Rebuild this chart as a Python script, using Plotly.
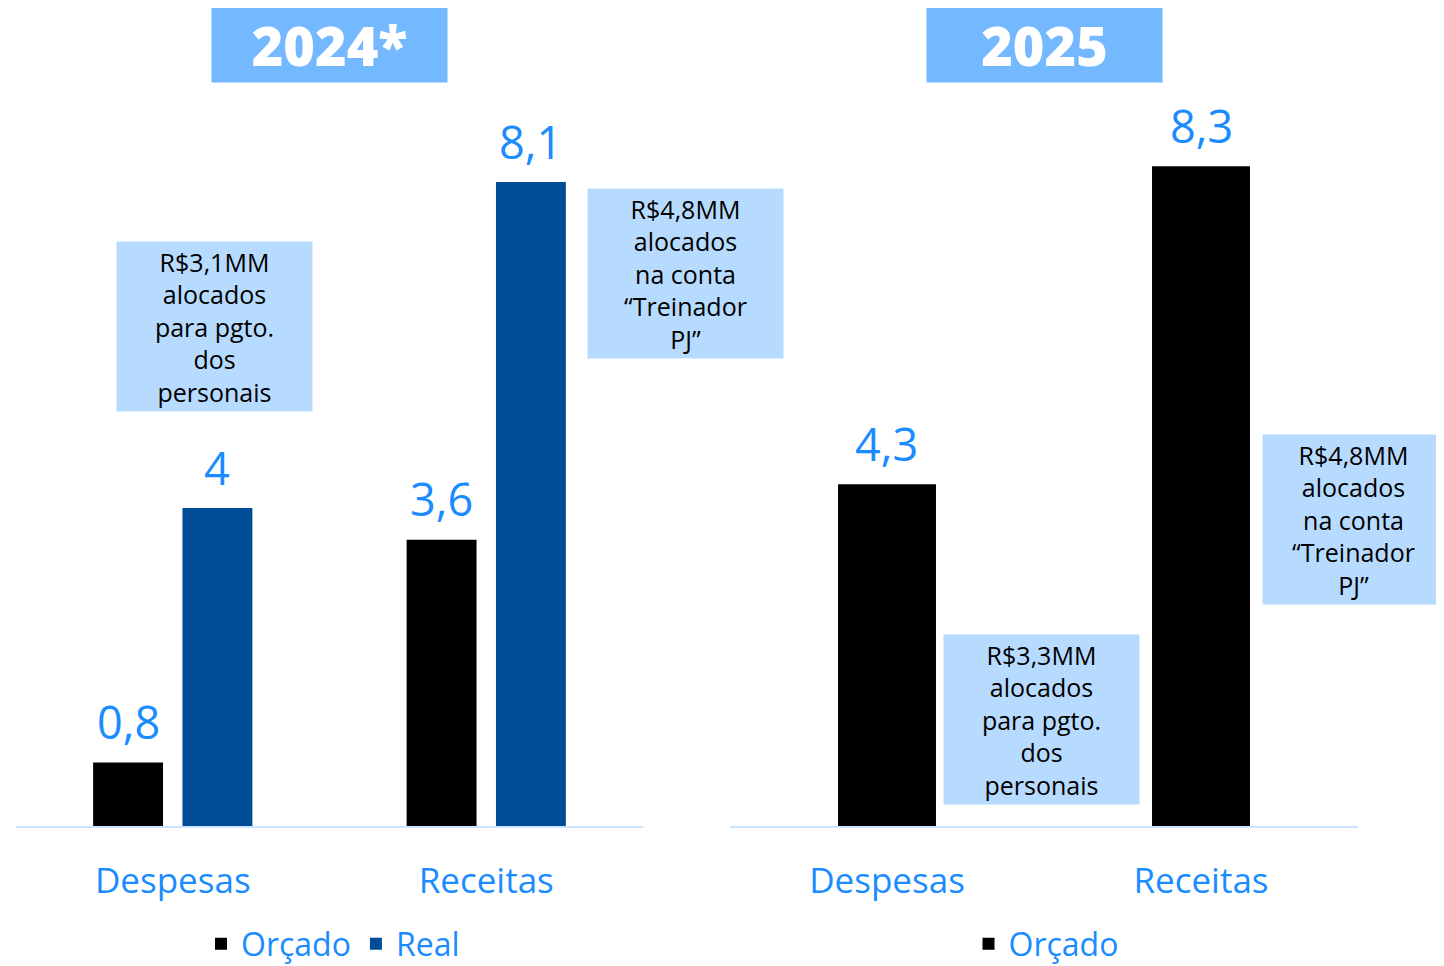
import plotly.graph_objects as go

# dados (R$ milhões)
categorias = ["Despesas", "Receitas"]
orcado_2024 = [0.8, 3.6]
real_2024 = [4.0, 8.1]
orcado_2025 = [4.3, 8.3]
titulos = ["2024*", "2025"]
notas = [
    "R$3,1MM<br>alocados<br>para pgto.<br>dos<br>personais",
    "R$4,8MM<br>alocados<br>na conta<br>“Treinador<br>PJ”",
    "R$3,3MM<br>alocados<br>para pgto.<br>dos<br>personais",
    "R$4,8MM<br>alocados<br>na conta<br>“Treinador<br>PJ”",
]

FONT = "Open Sans"
AZUL_TEXTO = "#1A8CFF"
AZUL_REAL = "#004C97"
AZUL_TITULO = "#74B8FF"
AZUL_NOTA = "#B7DBFF"
AZUL_LINHA = "#CCE4FF"

# a página tem 8px de margem no body: a figura começa em (8, 8)
W, H = 1436, 958
PLOT_H = 826 - 8
B = H - PLOT_H


def px_x(x):
    return (x - 8) / W


def px_y(y):
    return (826 - y) / PLOT_H


def fmt(v):
    s = f"{v:.1f}".replace(".", ",")
    return s[:-2] if s.endswith(",0") else s


fig = go.Figure()

fig.add_trace(go.Bar(x=categorias, y=orcado_2024, name="Orçado", marker_color="black",
                     width=0.223, offset=-0.254, xaxis="x", yaxis="y", legend="legend"))
fig.add_trace(go.Bar(x=categorias, y=real_2024, name="Real", marker_color=AZUL_REAL,
                     width=0.223, offset=0.031, xaxis="x", yaxis="y", legend="legend"))
fig.add_trace(go.Bar(x=categorias, y=orcado_2025, name="Orçado", marker_color="black",
                     width=0.312, offset=-0.156, xaxis="x2", yaxis="y", legend="legend2"))
fig.update_traces(marker_line_width=0)

annotations = []
# rótulos de valor acima das barras
for serie, xref, centro in [(orcado_2024, "x", -0.1425), (real_2024, "x", 0.1425), (orcado_2025, "x2", 0.0)]:
    for i, v in enumerate(serie):
        annotations.append(dict(x=i + centro, y=v, xref=xref, yref="y", text=fmt(v),
                                showarrow=False, yanchor="middle", yshift=41,
                                font=dict(family=FONT, size=45, color=AZUL_TEXTO)))

# caixas de título
for t, xr in zip(titulos, ["x domain", "x2 domain"]):
    annotations.append(dict(x=0.5, y=px_y(45), xref=xr, yref="paper", text=t,
                            showarrow=False, bgcolor=AZUL_TITULO, width=235, height=74,
                            borderpad=0, xanchor="center", yanchor="middle",
                            font=dict(family=FONT, size=54, color="white", weight=800)))

# notas explicativas
pos_notas = [(214.5, 326.5), (685, 273.5), (1041.5, 719), (1353.5, 519.5)]
larg_notas = [195, 195, 195, 181]
for txt, (px_, py_), w in zip(notas, pos_notas, larg_notas):
    annotations.append(dict(x=px_x(px_), y=px_y(py_), xref="paper", yref="paper", text=txt,
                            showarrow=False, bgcolor=AZUL_NOTA, width=w, height=169,
                            borderpad=0, align="center", xanchor="center", yanchor="middle",
                            font=dict(family=FONT, size=25, color="black")))

eixo_x = dict(type="category", showgrid=False, zeroline=False, showline=True,
              linecolor=AZUL_LINHA, linewidth=2, ticks="outside", ticklen=23,
              tickcolor="rgba(0,0,0,0)", tickfont=dict(family=FONT, size=35, color=AZUL_TEXTO),
              range=[-0.5, 1.5], fixedrange=True)

# legendas referenciadas ao container, para não empurrarem a margem inferior
leg_y = 1 - (944 - 8) / H
leg = dict(orientation="h", xanchor="center", yref="container", y=leg_y, yanchor="middle",
           font=dict(family=FONT, size=32, color=AZUL_TEXTO), itemwidth=30)

fig.update_layout(
    width=W, height=H,
    margin=dict(l=0, r=0, t=0, b=B),
    paper_bgcolor="white", plot_bgcolor="white",
    barmode="overlay",
    xaxis=dict(eixo_x, domain=[px_x(16), px_x(643)], anchor="y"),
    xaxis2=dict(eixo_x, domain=[px_x(730), px_x(1358)], anchor="y"),
    yaxis=dict(visible=False, range=[0, PLOT_H / 79.5], fixedrange=True),
    legend=dict(leg, x=px_x(333)),
    legend2=dict(leg, x=px_x(1046)),
    annotations=annotations,
)

fig.write_html("out.html")
